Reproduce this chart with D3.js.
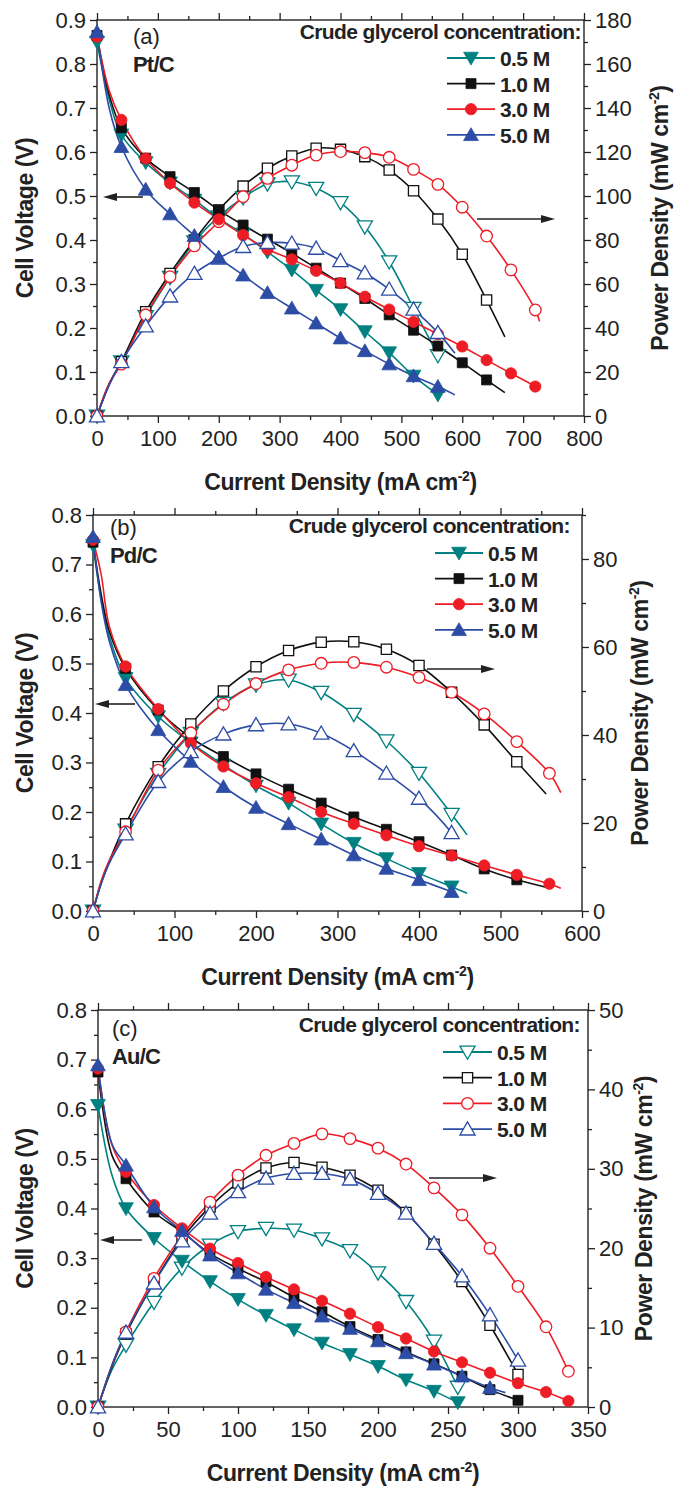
<!DOCTYPE html>
<html>
<head>
<meta charset="utf-8">
<script src="https://cdn.jsdelivr.net/npm/d3@7"></script>
<style>
  body { margin: 0; background: #fff; }
  svg { display: block; font-family: Arial, "Liberation Sans", sans-serif; }
</style>
</head>
<body>
<svg id="fig" width="675" height="1489"></svg>
<script>
// ---- series appearance (shared by all three panels) ----
const concentrations = ["0.5 M", "1.0 M", "3.0 M", "5.0 M"];
const seriesColors = ["#008080", "#111111", "#ee1c25", "#2c4ca6"];
const seriesSymbols = ["triDown", "square", "circle", "triUp"];

// ---- Panel (a) Pt/C : [current mA cm-2, cell voltage V] and [current, power mW cm-2] ----
const ptV05 = [[0,.85],[20,.72],[40,.639],[80,.576],[120,.53],[160,.491],[200,.449],[240,.414],[280,.373],[320,.332],[360,.286],[400,.242],[440,.192],[480,.144],[520,.091],[560,.048]];
const ptP05 = [[0,0],[20,14.4],[40,24.7],[80,45.2],[120,63],[160,79.2],[200,90.6],[240,99.2],[280,105.5],[320,106.5],[360,103.5],[400,97],[440,86],[480,70.1],[520,49],[560,27.5]];
const ptV10 = [[0,.865],[20,.73],[40,.655],[80,.586],[120,.544],[160,.508],[200,.468],[240,.434],[280,.402],[320,.37],[360,.336],[400,.302],[440,.267],[480,.23],[520,.195],[560,.159],[600,.121],[640,.082],[670,.053]];
const ptP10 = [[0,0],[20,14.6],[40,24.7],[80,47.4],[120,64.8],[160,80],[200,93.6],[240,104.5],[280,112.6],[320,118.2],[360,121.7],[400,121.2],[440,117.9],[480,111.8],[520,102.4],[560,89.5],[600,73.5],[640,52.7],[670,36]];
const ptV30 = [[0,.862],[20,.74],[40,.673],[80,.585],[120,.529],[160,.485],[200,.447],[240,.411],[280,.379],[320,.356],[360,.33],[400,.302],[440,.271],[480,.242],[520,.214],[560,.186],[600,.158],[640,.127],[680,.097],[720,.067],[727,.06]];
const ptP30 = [[0,0],[20,14.8],[40,23.6],[80,46],[120,63.3],[160,77.3],[200,88.3],[240,99.7],[280,108],[320,114],[360,118.6],[400,120.2],[440,119.7],[480,117.6],[520,112.1],[560,105.3],[600,94.9],[640,81.8],[680,66.4],[720,48.2],[727,43]];
const ptV50 = [[0,.873],[20,.70],[40,.612],[80,.515],[120,.459],[160,.41],[200,.36],[240,.32],[280,.28],[320,.245],[360,.211],[400,.177],[440,.148],[480,.118],[520,.091],[560,.067],[588,.048]];
const ptP50 = [[0,0],[20,14],[40,24.7],[80,40.9],[120,54.5],[160,64.8],[200,71.7],[240,77],[280,78.8],[320,78.5],[360,76.2],[400,70.6],[440,65],[480,57.6],[520,48.5],[560,37.9],[588,28.5]];
const markedA = [0,40,80,120,160,200,240,280,320,360,400,440,480,520,560,600,640,680,720];

// ---- Panel (b) Pd/C ----
const pdV05 = [[0,.739],[10,.63],[20,.555],[40,.47],[80,.393],[120,.34],[160,.295],[200,.253],[240,.218],[280,.176],[320,.137],[360,.106],[400,.076],[440,.049],[459,.036]];
const pdP05 = [[0,0],[10,6.3],[20,11.1],[40,18.4],[80,31.1],[120,40.4],[160,47.2],[200,51.4],[240,52.5],[280,49.7],[320,44.7],[360,38.7],[400,31.3],[440,22],[459,17.3]];
const pdV10 = [[0,.745],[10,.64],[20,.565],[40,.49],[80,.406],[120,.35],[160,.312],[200,.277],[240,.246],[280,.218],[320,.19],[360,.165],[400,.14],[440,.113],[480,.085],[520,.063],[556,.048]];
const pdP10 = [[0,0],[10,6.4],[20,11.3],[40,19.8],[80,32.8],[120,42.5],[160,50],[200,55.5],[240,59.2],[280,61.1],[320,61.2],[360,59.5],[400,55.8],[440,49.7],[480,42.3],[520,33.9],[556,26.6]];
const pdV30 = [[0,.75],[10,.68],[20,.575],[40,.494],[80,.408],[120,.339],[160,.292],[200,.258],[240,.23],[280,.2],[320,.176],[360,.153],[400,.131],[440,.112],[480,.092],[520,.073],[560,.055],[574,.046]];
const pdP30 = [[0,0],[10,6.8],[20,11.5],[40,18],[80,32],[120,40.5],[160,47],[200,51.7],[240,54.8],[280,56.3],[320,56.5],[360,55.4],[400,53.1],[440,49.7],[480,44.8],[520,38.5],[560,31.3],[574,26.9]];
const pdV50 = [[0,.756],[10,.625],[20,.545],[40,.457],[80,.366],[120,.302],[160,.251],[200,.209],[240,.176],[280,.145],[320,.113],[360,.086],[400,.063],[440,.039]];
const pdP50 = [[0,0],[10,6.2],[20,10.9],[40,17.5],[80,29.4],[120,36.2],[160,40.2],[200,42.3],[240,42.5],[280,40.4],[320,36.4],[360,31.3],[400,25.6],[440,17.8],[445,16.5]];
const markedB = [0,40,80,120,160,200,240,280,320,360,400,440,480,520,560];

// ---- Panel (c) Au/C ----
const auV05 = [[0,.608],[10,.467],[20,.4],[40,.34],[60,.294],[80,.253],[100,.217],[120,.185],[140,.156],[160,.129],[180,.106],[200,.082],[220,.055],[240,.032],[257,.009]];
const auP05 = [[0,0],[10,4.7],[20,7.8],[40,13.2],[60,17.5],[80,20.4],[100,22.1],[120,22.5],[140,22.3],[160,21.2],[180,19.7],[200,16.9],[220,13.3],[240,8.3],[257,2.5]];
const auV10 = [[0,.675],[10,.507],[20,.46],[40,.393],[60,.353],[80,.309],[100,.279],[120,.252],[140,.221],[160,.192],[180,.162],[200,.136],[220,.111],[240,.087],[260,.062],[280,.035],[300,.0135]];
const auP10 = [[0,0],[10,5.1],[20,9.2],[40,15.7],[60,21.2],[80,25.2],[100,28.2],[120,30.1],[140,30.8],[160,30.2],[180,29.2],[200,27.3],[220,24.5],[240,20.5],[260,15.8],[280,10.3],[300,4.1]];
const auV30 = [[0,.682],[10,.528],[20,.474],[40,.407],[60,.36],[80,.319],[100,.29],[120,.262],[140,.237],[160,.214],[180,.188],[200,.161],[220,.138],[240,.112],[260,.09],[280,.069],[300,.048],[320,.03],[336,.012]];
const auP30 = [[0,0],[10,5.3],[20,9.46],[40,16.2],[60,21.6],[80,25.8],[100,29.2],[120,31.7],[140,33.2],[160,34.4],[180,33.8],[200,32.6],[220,30.6],[240,27.6],[260,24.2],[280,20],[300,15.2],[320,10.1],[336,4.5]];
const auV50 = [[0,.689],[10,.53],[20,.487],[40,.403],[60,.355],[80,.306],[100,.27],[120,.237],[140,.21],[160,.183],[180,.158],[200,.133],[220,.109],[240,.086],[260,.062],[280,.039],[291,.029]];
const auP50 = [[0,0],[10,5.3],[20,9.4],[40,15.6],[60,20.9],[80,24.4],[100,27.1],[120,28.8],[140,29.4],[160,29.4],[180,28.7],[200,26.9],[220,24.4],[240,20.6],[260,16.5],[280,11.6],[300,5.9]];
const markedC = [0,20,40,60,80,100,120,140,160,180,200,220,240,260,280,300,320,336,257];

// ---- axis ticks ----
const xTicksA = [0,100,200,300,400,500,600,700,800];
const xTicksB = [0,100,200,300,400,500,600];
const xTicksC = [0,50,100,150,200,250,300,350];
const vTicksA = [0,.1,.2,.3,.4,.5,.6,.7,.8,.9];
const vTicksBC = [0,.1,.2,.3,.4,.5,.6,.7,.8];
const pTicksA = [0,20,40,60,80,100,120,140,160,180];
const pTicksB = [0,20,40,60,80];
const pTicksC = [0,10,20,30,40,50];

const svg = d3.select("#fig");

function markerPath(kind, open) {
  const sizes = { triDown: 95, triUp: 95, square: 100, circle: 100 };
  const type = kind === "square" ? d3.symbolSquare : kind === "circle" ? d3.symbolCircle : d3.symbolTriangle;
  return d3.symbol().type(type).size(open ? sizes[kind] * 1.05 : sizes[kind])();
}

function drawMarker(sel, kind, color, open) {
  sel.append("path")
    .attr("d", markerPath(kind, open))
    .attr("transform", (d) => {
      const rot = kind === "triDown" ? " rotate(180)" : "";
      const shift = kind === "triDown" ? -1.5 : kind === "triUp" ? 1.5 : 0;
      return `translate(${d.px},${d.py + shift})${rot}`;
    })
    .attr("fill", open ? "#fff" : color)
    .attr("stroke", color)
    .attr("stroke-width", open ? 1.3 : 0.8);
}

function buildPanel(cfg) {
  const g = svg.append("g");
  const x = d3.scaleLinear().domain(cfg.xDomain).range([cfg.left, cfg.right]);
  const yV = d3.scaleLinear().domain(cfg.vDomain).range([cfg.bottom, cfg.top]);
  const yP = d3.scaleLinear().domain(cfg.pDomain).range([cfg.bottom, cfg.top]);

  // frame
  g.append("rect").attr("x", cfg.left).attr("y", cfg.top)
    .attr("width", cfg.right - cfg.left).attr("height", cfg.bottom - cfg.top)
    .attr("fill", "none").attr("stroke", "#222").attr("stroke-width", 1.4);

  const styleAxis = (s) => {
    s.select(".domain").remove();
    s.selectAll("line").attr("stroke", "#222").attr("stroke-width", 1.3);
    s.selectAll("text").attr("fill", "#222").attr("font-size", 22).attr("font-family", "Arial, 'Liberation Sans', sans-serif");
  };

  const xMinor = d3.range(cfg.xDomain[0], cfg.xDomain[1] + 1e-9, cfg.xMinor).filter(v => !cfg.xTicks.includes(v));
  const vMinor = d3.range(0, cfg.vDomain[1] + 1e-9, 0.05).filter(v => Math.abs(Math.round(v * 10) - v * 10) > 1e-6);
  const pMinor = d3.range(0, cfg.pDomain[1] + 1e-9, cfg.pMinor).filter(v => !cfg.pTicks.includes(v));

  // bottom axis
  g.append("g").attr("transform", `translate(0,${cfg.bottom})`)
    .call(d3.axisBottom(x).tickValues(cfg.xTicks).tickSize(7).tickPadding(7).tickFormat(d3.format("d")))
    .call(styleAxis);
  g.append("g").attr("transform", `translate(0,${cfg.bottom})`)
    .call(d3.axisBottom(x).tickValues(xMinor).tickSize(4).tickFormat(""))
    .call(styleAxis);
  // top axis (ticks only)
  g.append("g").attr("transform", `translate(0,${cfg.top})`)
    .call(d3.axisTop(x).tickValues(cfg.xTicks).tickSize(7).tickFormat(""))
    .call(styleAxis);
  g.append("g").attr("transform", `translate(0,${cfg.top})`)
    .call(d3.axisTop(x).tickValues(xMinor).tickSize(4).tickFormat(""))
    .call(styleAxis);
  // left axis: cell voltage
  g.append("g").attr("transform", `translate(${cfg.left},0)`)
    .call(d3.axisLeft(yV).tickValues(cfg.vTicks).tickSize(7).tickPadding(4).tickFormat(d3.format(".1f")))
    .call(styleAxis);
  g.append("g").attr("transform", `translate(${cfg.left},0)`)
    .call(d3.axisLeft(yV).tickValues(vMinor).tickSize(4).tickFormat(""))
    .call(styleAxis);
  // right axis: power density
  g.append("g").attr("transform", `translate(${cfg.right},0)`)
    .call(d3.axisRight(yP).tickValues(cfg.pTicks).tickSize(7).tickPadding(4).tickFormat(d3.format("d")))
    .call(styleAxis);
  g.append("g").attr("transform", `translate(${cfg.right},0)`)
    .call(d3.axisRight(yP).tickValues(pMinor).tickSize(4).tickFormat(""))
    .call(styleAxis);

  // axis titles
  const bold = "bold";
  const xt = g.append("text").attr("x", (cfg.left + cfg.right) / 2).attr("y", cfg.bottom + 74)
    .attr("text-anchor", "middle").attr("font-size", 23).attr("font-weight", bold)
    .attr("letter-spacing", -0.4).attr("fill", "#222");
  xt.append("tspan").text("Current Density (mA cm");
  xt.append("tspan").attr("font-size", 14).attr("dy", -9).text("-2");
  xt.append("tspan").attr("dy", 9).text(")");

  const yMid = (cfg.top + cfg.bottom) / 2;
  g.append("text").attr("transform", `translate(${cfg.leftTitleX},${yMid}) rotate(-90)`)
    .attr("text-anchor", "middle").attr("font-size", 23).attr("font-weight", bold)
    .attr("letter-spacing", -0.4).attr("fill", "#222").text("Cell Voltage (V)");

  const rt = g.append("text").attr("transform", `translate(${cfg.rightTitleX},${yMid}) rotate(-90)`)
    .attr("text-anchor", "middle").attr("font-size", 23).attr("font-weight", bold)
    .attr("letter-spacing", -0.4).attr("fill", "#222");
  rt.append("tspan").text("Power Density (mW cm");
  rt.append("tspan").attr("font-size", 14).attr("dy", -9).text("-2");
  rt.append("tspan").attr("dy", 9).text(")");

  // panel label and catalyst
  g.append("text").attr("x", cfg.tag[0]).attr("y", cfg.tag[1]).attr("font-size", 22)
    .attr("fill", "#222").text(cfg.tagText);
  g.append("text").attr("x", cfg.tag[0]).attr("y", cfg.tag[1] + 28).attr("font-size", 22)
    .attr("font-weight", bold).attr("letter-spacing", -0.8).attr("fill", "#222").text(cfg.catalyst);

  // curves
  const lineV = d3.line().x(d => x(d[0])).y(d => yV(d[1])).curve(d3.curveCatmullRom.alpha(0.5));
  const lineP = d3.line().x(d => x(d[0])).y(d => yP(d[1])).curve(d3.curveCatmullRom.alpha(0.5));
  cfg.series.forEach((s, i) => {
    const color = seriesColors[i];
    g.append("path").attr("d", lineP(s.p)).attr("fill", "none").attr("stroke", color).attr("stroke-width", 1.6);
    g.append("path").attr("d", lineV(s.v)).attr("fill", "none").attr("stroke", color).attr("stroke-width", 1.6);
  });
  cfg.series.forEach((s, i) => {
    const color = seriesColors[i];
    const pm = s.p.filter(d => cfg.marked.includes(d[0])).map(d => ({ px: x(d[0]), py: yP(d[1]) }));
    const vm = s.v.filter(d => cfg.marked.includes(d[0])).map(d => ({ px: x(d[0]), py: yV(d[1]) }));
    drawMarker(g.append("g").selectAll("g").data(pm).join("g"), seriesSymbols[i], color, true);
    drawMarker(g.append("g").selectAll("g").data(vm).join("g"), seriesSymbols[i], color, false);
  });

  // arrows indicating which axis each family belongs to
  const arrow = (x1, x2, y) => {
    g.append("line").attr("x1", x1).attr("x2", x2 + (x2 < x1 ? 8 : -8)).attr("y1", y).attr("y2", y)
      .attr("stroke", "#222").attr("stroke-width", 1.6);
    const dir = x2 < x1 ? 1 : -1;
    g.append("path").attr("d", `M${x2},${y} L${x2 + dir * 14},${y - 4} L${x2 + dir * 14},${y + 4} Z`).attr("fill", "#222");
  };
  arrow(cfg.leftArrow[0], cfg.leftArrow[1], cfg.leftArrow[2]);
  arrow(cfg.rightArrow[0], cfg.rightArrow[1], cfg.rightArrow[2]);

  // legend
  g.append("text").attr("x", cfg.legend.titleRight).attr("y", cfg.legend.titleY)
    .attr("text-anchor", "end").attr("font-size", 21).attr("font-weight", bold)
    .attr("letter-spacing", -0.6).attr("fill", "#222").text("Crude glycerol concentration:");
  concentrations.forEach((c, i) => {
    const y = cfg.legend.y0 + i * cfg.legend.dy;
    g.append("line").attr("x1", cfg.legend.x1).attr("x2", cfg.legend.x2).attr("y1", y).attr("y2", y)
      .attr("stroke", seriesColors[i]).attr("stroke-width", 1.8);
    drawMarker(g.append("g").selectAll("g").data([{ px: (cfg.legend.x1 + cfg.legend.x2) / 2, py: y }]).join("g"),
      seriesSymbols[i], seriesColors[i], cfg.legend.open);
    g.append("text").attr("x", cfg.legend.x2 + 5).attr("y", y + 8).attr("font-size", 21)
      .attr("font-weight", bold).attr("letter-spacing", -0.6).attr("fill", "#222").text(c);
  });
}

buildPanel({
  left: 97, right: 584, top: 20, bottom: 416,
  xDomain: [0, 800], vDomain: [0, 0.9], pDomain: [0, 180],
  xTicks: xTicksA, xMinor: 50, vTicks: vTicksA, pTicks: pTicksA, pMinor: 10,
  leftTitleX: 33, rightTitleX: 668,
  tag: [133, 44], tagText: "(a)", catalyst: "Pt/C",
  series: [{ v: ptV05, p: ptP05 }, { v: ptV10, p: ptP10 }, { v: ptV30, p: ptP30 }, { v: ptV50, p: ptP50 }],
  marked: markedA,
  leftArrow: [143, 103, 197], rightArrow: [477, 555, 219],
  legend: { titleRight: 581, titleY: 39, x1: 447, x2: 495, y0: 58, dy: 25.6, open: false }
});

buildPanel({
  left: 93, right: 582, top: 515, bottom: 911,
  xDomain: [0, 600], vDomain: [0, 0.8], pDomain: [0, 90],
  xTicks: xTicksB, xMinor: 50, vTicks: vTicksBC, pTicks: pTicksB, pMinor: 10,
  leftTitleX: 33, rightTitleX: 648,
  tag: [110, 535], tagText: "(b)", catalyst: "Pd/C",
  series: [{ v: pdV05, p: pdP05 }, { v: pdV10, p: pdP10 }, { v: pdV30, p: pdP30 }, { v: pdV50, p: pdP50 }],
  marked: markedB,
  leftArrow: [135, 95, 704], rightArrow: [427, 495, 669],
  legend: { titleRight: 570, titleY: 533, x1: 435, x2: 483, y0: 553, dy: 25.6, open: false }
});

buildPanel({
  left: 98, right: 588, top: 1010, bottom: 1407,
  xDomain: [0, 350], vDomain: [0, 0.8], pDomain: [0, 50],
  xTicks: xTicksC, xMinor: 25, vTicks: vTicksBC, pTicks: pTicksC, pMinor: 5,
  leftTitleX: 33, rightTitleX: 652,
  tag: [112, 1036], tagText: "(c)", catalyst: "Au/C",
  series: [{ v: auV05, p: auP05 }, { v: auV10, p: auP10 }, { v: auV30, p: auP30 }, { v: auV50, p: auP50 }],
  marked: markedC,
  leftArrow: [142, 100, 1240], rightArrow: [429, 497, 1178],
  legend: { titleRight: 580, titleY: 1032, x1: 443, x2: 492, y0: 1052, dy: 25.7, open: true }
});
</script>
</body>
</html>
